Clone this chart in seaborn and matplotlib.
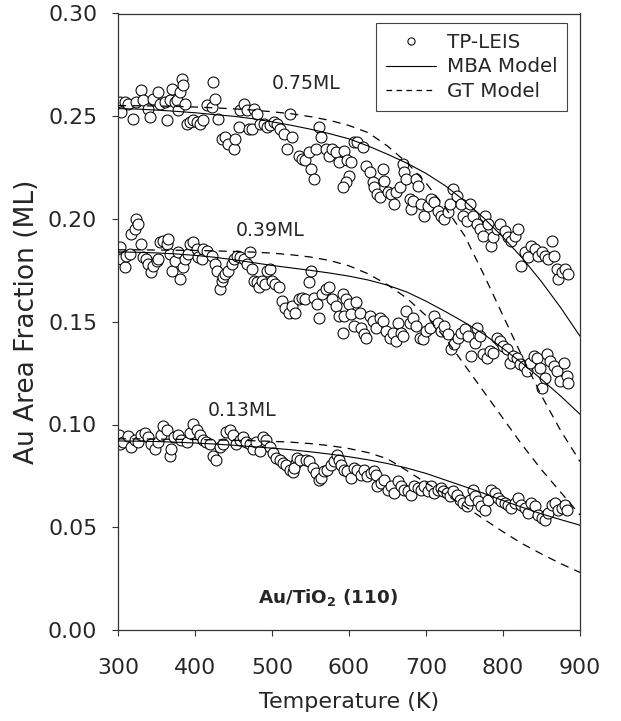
import matplotlib
matplotlib.use("Agg")
import matplotlib.pyplot as plt
from matplotlib.lines import Line2D
import numpy as np
import pandas as pd
import seaborn as sns

# TP-LEIS data (temperature in K, area fraction in ML)
t_075 = [302, 309, 304, 313, 320, 324, 330, 333, 339, 341, 346, 352, 354, 361, 363, 367, 370, 374, 376,
         378, 380, 383, 385, 387, 389, 393, 398, 402, 407, 411, 415, 422, 424, 426, 430, 435, 439, 443,
         450, 452, 457, 459, 463, 467, 470, 474, 476, 480, 485, 489, 493, 498, 502, 507, 511, 515, 520,
         524, 526, 535, 539, 543, 548, 550, 554, 557, 561, 563, 570, 574, 578, 583, 587,
         594, 598, 603, 600, 596, 592, 607, 611, 618, 622, 627, 631, 633, 637, 640, 644, 646, 651, 655,
         659, 661, 666, 670, 672, 674, 679, 681, 683, 687, 690, 694, 698, 703, 707, 711, 716, 720, 724,
         729, 731, 735, 740, 746, 748, 753, 757, 761, 766, 770, 774, 777, 781, 785, 787, 792, 796, 803,
         807, 811, 816, 820, 824, 829, 833, 837, 842, 846, 850, 855, 859, 864, 866, 870, 872, 877, 881, 885]
v_075 = [0.2569, 0.2569, 0.2520, 0.2561, 0.2488, 0.2569, 0.2626, 0.2577, 0.2537, 0.2496, 0.2585, 0.2618,
         0.2561, 0.2569, 0.2480, 0.2577, 0.2634, 0.2569, 0.2577, 0.2528, 0.2618, 0.2683, 0.2650, 0.2561,
         0.2463, 0.2472, 0.2480, 0.2472, 0.2463, 0.2480, 0.2553, 0.2545, 0.2667, 0.2585, 0.2488, 0.2390,
         0.2398, 0.2366, 0.2341, 0.2390, 0.2447, 0.2528, 0.2561, 0.2528, 0.2439, 0.2439, 0.2537, 0.2512,
         0.2463, 0.2463, 0.2447, 0.2455, 0.2472, 0.2463, 0.2439, 0.2415, 0.2341, 0.2512, 0.2398, 0.2309,
         0.2293, 0.2285, 0.2325, 0.2244, 0.2195, 0.2341, 0.2447, 0.2398, 0.2341, 0.2309, 0.2341, 0.2325,
         0.2276,
         0.2333, 0.2285, 0.2276, 0.2211, 0.2179, 0.2155, 0.2374, 0.2374, 0.2350, 0.2260, 0.2228, 0.2179,
         0.2155, 0.2122, 0.2106, 0.2244, 0.2187, 0.2130, 0.2122, 0.2073, 0.2130, 0.2155, 0.2268, 0.2228,
         0.2195, 0.2098, 0.2049, 0.2089, 0.2195, 0.2163, 0.2073, 0.2016, 0.2065, 0.2098, 0.2081, 0.2041,
         0.2016, 0.2000, 0.2033, 0.2073, 0.2146, 0.2114, 0.2073, 0.2016, 0.1992, 0.2073, 0.2016, 0.1976,
         0.1951, 0.1919, 0.2016, 0.1976, 0.1870, 0.1911, 0.1951, 0.1976, 0.1943, 0.1911, 0.1894, 0.1919,
         0.1951, 0.1772, 0.1837, 0.1813, 0.1870, 0.1854, 0.1821, 0.1837, 0.1821, 0.1805, 0.1894, 0.1821,
         0.1756, 0.1707, 0.1740, 0.1756, 0.1732]

t_039 = [302, 304, 309, 311, 315, 317, 322, 324, 326, 330, 333, 337, 339, 343, 346, 350, 352, 354, 359,
         363, 365, 367, 370, 374, 378, 380, 385, 387, 391, 393, 398, 402, 404, 409, 411, 415, 422, 426,
         428, 433, 435, 437, 439, 443, 448, 450, 454, 459, 463, 467, 472, 474, 476, 480, 483, 487, 491,
         493, 498, 500, 504, 509, 513, 517, 522, 526, 530, 535, 539, 543, 548, 550, 554, 559, 561, 565,
         570, 574, 578, 583, 587,
         592, 596, 600, 594, 592, 603, 609, 614, 607, 616, 620, 622, 627, 631, 635, 640, 644, 648, 653,
         657, 661, 664, 668, 670, 674, 679, 683, 687, 692, 696, 700, 705, 711, 716, 720, 724, 729, 733,
         737, 742, 746, 750, 755, 759, 763, 766, 770, 774, 779, 783, 787, 792, 796, 800, 805, 809, 813,
         818, 822, 827, 831, 835, 840, 844, 848, 850, 855, 857, 861, 866, 870, 874, 879, 883, 885]
v_039 = [0.1862, 0.1805, 0.1764, 0.1821, 0.1829, 0.1927, 0.1951, 0.2000, 0.1976, 0.1878, 0.1813, 0.1805,
         0.1780, 0.1740, 0.1772, 0.1797, 0.1805, 0.1886, 0.1894, 0.1878, 0.1902, 0.1829, 0.1748, 0.1797,
         0.1837, 0.1707, 0.1764, 0.1805, 0.1829, 0.1878, 0.1886, 0.1854, 0.1813, 0.1805, 0.1854, 0.1846,
         0.1821, 0.1780, 0.1748, 0.1659, 0.1699, 0.1716, 0.1732, 0.1748, 0.1780, 0.1805, 0.1821, 0.1813,
         0.1805, 0.1780, 0.1837, 0.1756, 0.1699, 0.1691, 0.1667, 0.1699, 0.1683, 0.1748, 0.1756, 0.1699,
         0.1683, 0.1667, 0.1602, 0.1569, 0.1545, 0.1577, 0.1545, 0.1610, 0.1618, 0.1610, 0.1691, 0.1748,
         0.1618, 0.1585, 0.1520, 0.1634, 0.1659, 0.1667, 0.1610, 0.1577, 0.1528,
         0.1634, 0.1610, 0.1585, 0.1528, 0.1447, 0.1537, 0.1594, 0.1545, 0.1480, 0.1472, 0.1439, 0.1423,
         0.1528, 0.1504, 0.1472, 0.1520, 0.1504, 0.1455, 0.1423, 0.1447, 0.1407, 0.1496, 0.1447, 0.1431,
         0.1553, 0.1496, 0.1520, 0.1480, 0.1423, 0.1415, 0.1455, 0.1472, 0.1528, 0.1496, 0.1455, 0.1480,
         0.1439, 0.1366, 0.1390, 0.1423, 0.1447, 0.1463, 0.1431, 0.1333, 0.1398, 0.1472, 0.1431, 0.1341,
         0.1325, 0.1358, 0.1350, 0.1423, 0.1407, 0.1382, 0.1366, 0.1301, 0.1333, 0.1325, 0.1293, 0.1285,
         0.1260, 0.1301, 0.1333, 0.1325, 0.1276, 0.1179, 0.1228, 0.1341, 0.1309, 0.1285, 0.1260, 0.1211,
         0.1301, 0.1236, 0.1203]

t_013 = [301, 302, 306, 313, 317, 322, 326, 330, 335, 339, 343, 348, 352, 356, 358, 363, 367, 369, 373,
         378, 382, 389, 393, 397, 402, 406, 410, 414, 419, 423, 427, 432, 436, 440, 445, 449, 453, 458,
         462, 466, 471, 475, 479, 484, 488, 492, 497, 501, 505, 510, 514, 518, 523, 527, 531,
         533, 529, 537, 544, 548, 553, 557, 561, 563, 568, 572, 576, 581, 585, 587, 590, 594, 598, 603,
         607, 611, 616, 620, 624, 629, 633, 635, 637, 642, 646, 650, 655, 659, 663, 668, 672, 677, 681,
         685, 690, 694, 698, 703, 707, 711, 716, 720,
         722, 727, 731, 735, 740, 744, 748, 753, 757, 761, 763, 768, 772, 777, 781, 785, 790, 794, 798,
         803, 807, 811, 816, 820, 824, 829, 833, 837, 842, 846, 850, 855, 859, 863, 868, 872, 877, 881, 883]
v_013 = [0.0948, 0.0904, 0.0915, 0.0942, 0.0892, 0.0926, 0.0915, 0.0948, 0.0960, 0.0937, 0.0904, 0.0881,
         0.0915, 0.0948, 0.0993, 0.0971, 0.0848, 0.0881, 0.0937, 0.0948, 0.0926, 0.0915, 0.0960, 0.1004,
         0.0971, 0.0948, 0.0926, 0.0915, 0.0904, 0.0848, 0.0825, 0.0892, 0.0904, 0.0964, 0.0971, 0.0948,
         0.0904, 0.0926, 0.0937, 0.0915, 0.0904, 0.0881, 0.0915, 0.0870, 0.0937, 0.0926, 0.0892, 0.0859,
         0.0836, 0.0825, 0.0814, 0.0803, 0.0780, 0.0769, 0.0814,
         0.0837, 0.0789, 0.0829, 0.0829, 0.0821, 0.0789, 0.0764, 0.0732, 0.0740, 0.0772, 0.0780, 0.0805,
         0.0821, 0.0854, 0.0829, 0.0805, 0.0780, 0.0772, 0.0740, 0.0789, 0.0780, 0.0756, 0.0780, 0.0748,
         0.0764, 0.0772, 0.0756, 0.0699, 0.0715, 0.0732, 0.0683, 0.0699, 0.0667, 0.0724, 0.0699, 0.0683,
         0.0675, 0.0659, 0.0699, 0.0691, 0.0683, 0.0699, 0.0675, 0.0699, 0.0667, 0.0683, 0.0691,
         0.0675, 0.0667, 0.0650, 0.0675, 0.0659, 0.0634, 0.0618, 0.0602, 0.0634, 0.0683, 0.0650, 0.0626,
         0.0602, 0.0585, 0.0634, 0.0683, 0.0667, 0.0642, 0.0626, 0.0618, 0.0610, 0.0594, 0.0618, 0.0642,
         0.0610, 0.0594, 0.0569, 0.0618, 0.0602, 0.0561, 0.0545, 0.0537, 0.0569, 0.0610, 0.0618, 0.0585,
         0.0594, 0.0610, 0.0585]

# model curves, read every 25 K
t_model = [300, 325, 350, 375, 400, 425, 450, 475, 500, 525, 550, 575, 600,
           625, 650, 675, 700, 725, 750, 775, 800, 825, 850, 875, 900]
mba_075 = [0.2537, 0.2535, 0.2530, 0.2524, 0.2517, 0.2508, 0.2500, 0.2488, 0.2473, 0.2456, 0.2437, 0.2415,
           0.2390, 0.2355, 0.2315, 0.2272, 0.2222, 0.2162, 0.2088, 0.2005, 0.1912, 0.1810, 0.1695, 0.1568,
           0.1430]
gt_075 = [0.2552, 0.2551, 0.2550, 0.2548, 0.2545, 0.2541, 0.2536, 0.2530, 0.2522, 0.2512, 0.2498, 0.2480,
          0.2455, 0.2420, 0.2355, 0.2275, 0.2175, 0.2055, 0.1920, 0.1730, 0.1530, 0.1330, 0.1140, 0.0970,
          0.0820]
mba_039 = [0.1840, 0.1838, 0.1835, 0.1830, 0.1823, 0.1814, 0.1802, 0.1788, 0.1774, 0.1762, 0.1750, 0.1737,
           0.1722, 0.1703, 0.1678, 0.1645, 0.1600, 0.1550, 0.1497, 0.1440, 0.1370, 0.1298, 0.1220, 0.1138,
           0.1050]
gt_039 = [0.1850, 0.1850, 0.1849, 0.1848, 0.1847, 0.1845, 0.1842, 0.1839, 0.1834, 0.1826, 0.1815, 0.1798,
          0.1772, 0.1733, 0.1680, 0.1615, 0.1530, 0.1420, 0.1290, 0.1160, 0.1030, 0.0900, 0.0780, 0.0670,
          0.0560]
mba_013 = [0.0920, 0.0919, 0.0917, 0.0914, 0.0910, 0.0905, 0.0899, 0.0892, 0.0885, 0.0877, 0.0867, 0.0856,
           0.0843, 0.0828, 0.0810, 0.0788, 0.0762, 0.0730, 0.0698, 0.0665, 0.0630, 0.0597, 0.0565, 0.0537,
           0.0510]
gt_013 = [0.0930, 0.0930, 0.0929, 0.0928, 0.0927, 0.0925, 0.0923, 0.0921, 0.0918, 0.0914, 0.0907, 0.0897,
          0.0883, 0.0863, 0.0833, 0.0776, 0.0716, 0.0660, 0.0603, 0.0540, 0.0478, 0.0420, 0.0370, 0.0323,
          0.0280]

coverage_labels = ["0.75ML", "0.39ML", "0.13ML"]
label_pos = [(500, 0.2660), (453, 0.1946), (417, 0.1068)]

sns.set_theme(style="ticks")
plt.rcParams['font.family'] = ['DejaVu Sans']
plt.rcParams['mathtext.fontset'] = 'dejavusans'

fig = plt.figure(figsize=(6.21, 7.21), dpi=100)
ax = fig.add_axes([118 / 621, 1 - 630 / 721, 462 / 621, 616.5 / 721])

series = [(t_075, v_075), (t_039, v_039), (t_013, v_013)]
for t, v in series:
    df = pd.DataFrame({"T": t, "frac": v})
    sns.scatterplot(data=df, x="T", y="frac", ax=ax, marker="o", s=62,
                    facecolor="white", edgecolor="black", linewidth=0.75, zorder=2)

dash = (0, (6.5, 5))
for mba, gt in [(mba_075, gt_075), (mba_039, gt_039), (mba_013, gt_013)]:
    dm = pd.DataFrame({"T": t_model, "mba": mba, "gt": gt})
    sns.lineplot(data=dm, x="T", y="mba", ax=ax, color="black", lw=0.8, zorder=3)
    sns.lineplot(data=dm, x="T", y="gt", ax=ax, color="black", lw=0.9, linestyle=dash, zorder=3)

for lab, (x, y) in zip(coverage_labels, label_pos):
    ax.text(x, y, lab, fontsize=13.6, va="center", ha="left")

ax.text(482, 0.0160, r"$\mathbf{Au/TiO_2}$ (110)", fontsize=13.2, fontweight="bold",
        ha="left", va="center")

ax.set_xlim(300, 900)
ax.set_ylim(0, 0.30)
ax.set_xticks(np.arange(300, 901, 100))
ax.set_yticks(np.arange(0, 0.301, 0.05))
ax.yaxis.set_major_formatter(matplotlib.ticker.FormatStrFormatter("%.2f"))
ax.tick_params(direction="out", length=4.5, width=0.8, labelsize=15.8, color="#333333")
ax.tick_params(axis="x", pad=15.5)
ax.tick_params(axis="y", pad=10.5)
for sp in ax.spines.values():
    sp.set_visible(True)
    sp.set_linewidth(0.9)
    sp.set_color("#333333")

ax.set_xlabel("Temperature (K)", fontsize=16, labelpad=10)
ax.set_ylabel("Au Area Fraction (ML)", fontsize=19, labelpad=5.5)

handles = [Line2D([], [], marker="o", linestyle="none", markersize=5.2, markerfacecolor="white",
                  markeredgecolor="black", markeredgewidth=0.75),
           Line2D([], [], color="black", lw=0.8),
           Line2D([], [], color="black", lw=0.9, linestyle=(0, (4.5, 3.5)))]
leg = ax.legend(handles, ["TP-LEIS", "MBA Model", "GT Model"], loc="upper right",
                bbox_to_anchor=(0.972, 0.9846), borderaxespad=0, fontsize=14.3, frameon=True,
                fancybox=False, edgecolor="#444444", framealpha=1, handlelength=2.5,
                labelspacing=0.28, borderpad=0.5, handletextpad=0.55)
leg.get_frame().set_linewidth(0.8)

fig.savefig("out.png", dpi=100)
